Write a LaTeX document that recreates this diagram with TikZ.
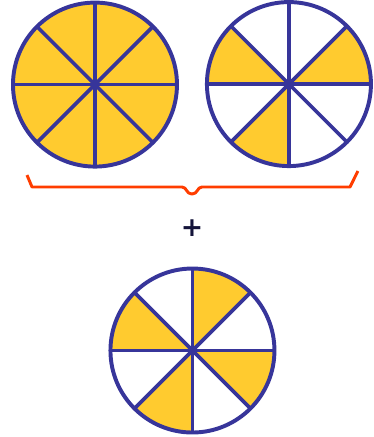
\documentclass[tikz,border=0pt]{standalone}
\usepackage{fontspec}
\newfontfamily\signfont{DejaVu Sans}
\usepackage{tikz}
\usetikzlibrary{calc}
\definecolor{PieNavy}{HTML}{37359A}
\definecolor{PieGold}{HTML}{FFCB2F}
\definecolor{BraceRed}{HTML}{FF3D00}
\definecolor{SignInk}{HTML}{14143A}

\begin{document}
\begin{tikzpicture}[
    scale=0.025,
    rim/.style={draw=PieNavy, line width=2.8pt},
    spoke/.style={draw=PieNavy, line width=2.6pt},
    slice/.style={fill=PieGold},
    brace/.style={draw=BraceRed, line width=2.1pt, line join=round},
    sign/.style={text=SignInk, inner sep=0pt, font=\signfont\bfseries\fontsize{19}{19}\selectfont}
]
\useasboundingbox (0,0) rectangle (373,437);

\coordinate (pieA) at (95,352.5);
\coordinate (pieB) at (289,353);
\coordinate (pieC) at (192.5,86.5);

% shaded slices (start angles)
\foreach \a in {0,45,...,315}
  \fill[slice] (pieA) -- ++(\a:82) arc[start angle=\a, end angle=\a+45, radius=82] -- cycle;
\foreach \a in {0,135,225}
  \fill[slice] (pieB) -- ++(\a:82) arc[start angle=\a, end angle=\a+45, radius=82] -- cycle;
\foreach \a in {45,135,225,315}
  \fill[slice] (pieC) -- ++(\a:82) arc[start angle=\a, end angle=\a+45, radius=82] -- cycle;

% spokes and rims
\foreach \p in {pieA,pieB,pieC} {
  \foreach \a in {0,45,90,135}
    \draw[spoke] ($(\p)+(\a:82)$) -- ($(\p)+(\a+180:82)$);
  \draw[rim] (\p) circle[radius=82];
}

% brace under the two top pies
\coordinate (braceL) at (27,262);
\coordinate (braceR) at (358,266);
\coordinate (braceTip) at (192,243);
\draw[brace] (braceL) -- (32,250) -- (182,250)
  .. controls (187,250) and (186,243) .. (braceTip)
  .. controls (198,243) and (197,250) .. (202,250) -- (350,250) -- (braceR);

\node[sign] (plus) at (192,209) {+};
\end{tikzpicture}
\end{document}
